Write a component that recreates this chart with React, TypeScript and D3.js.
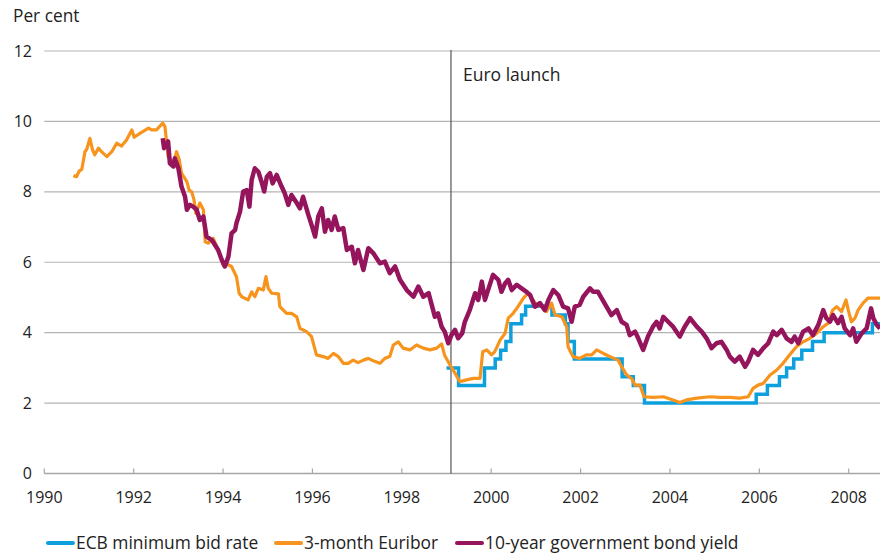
import React from "react";
import * as d3 from "d3";

// ---------- DATA ----------
const yTicks = [0, 2, 4, 6, 8, 10, 12];
const xTicks = [1990, 1992, 1994, 1996, 1998, 2000, 2002, 2004, 2006, 2008];
const euroLaunch = 1999.1;

// ECB minimum bid rate (step changes): date, rate
const ecbDates = [1999.0, 1999.27, 1999.85, 2000.09, 2000.21, 2000.33, 2000.44, 2000.68, 2000.77, 2001.36, 2001.66, 2001.72, 2001.86, 2002.93, 2003.18, 2003.43, 2005.93, 2006.18, 2006.45, 2006.61, 2006.77, 2006.95, 2007.19, 2007.45, 2008.53, 2008.70];
const ecbRates = [3.0, 2.5, 3.0, 3.25, 3.5, 3.75, 4.25, 4.5, 4.75, 4.5, 4.25, 3.75, 3.25, 2.75, 2.5, 2.0, 2.25, 2.5, 2.75, 3.0, 3.25, 3.5, 3.75, 4.0, 4.25, 4.25];

// 3-month Euribor
const euriborDates = [1990.65, 1990.72, 1990.78, 1990.84, 1990.91, 1990.95, 1991.02, 1991.08, 1991.13, 1991.21, 1991.28, 1991.40, 1991.51, 1991.62, 1991.73, 1991.84, 1991.96, 1992.01, 1992.14, 1992.33, 1992.40, 1992.51, 1992.65, 1992.70, 1992.77, 1992.89, 1992.96, 1993.02, 1993.07, 1993.19, 1993.24, 1993.30, 1993.35, 1993.39, 1993.48, 1993.56, 1993.60, 1993.67, 1993.78, 1993.89, 1994.00, 1994.08, 1994.19, 1994.30, 1994.36, 1994.42, 1994.56, 1994.64, 1994.71, 1994.79, 1994.90, 1994.96, 1995.01, 1995.09, 1995.24, 1995.27, 1995.42, 1995.53, 1995.65, 1995.72, 1995.87, 1995.98, 1996.09, 1996.24, 1996.35, 1996.47, 1996.58, 1996.69, 1996.80, 1996.91, 1997.02, 1997.14, 1997.25, 1997.36, 1997.51, 1997.62, 1997.73, 1997.81, 1997.92, 1998.03, 1998.18, 1998.33, 1998.48, 1998.63, 1998.78, 1998.89, 1998.96, 1999.08, 1999.19, 1999.30, 1999.45, 1999.60, 1999.75, 1999.81, 1999.90, 2000.01, 2000.08, 2000.20, 2000.31, 2000.38, 2000.49, 2000.60, 2000.72, 2000.83, 2000.90, 2001.02, 2001.13, 2001.24, 2001.35, 2001.43, 2001.58, 2001.69, 2001.72, 2001.83, 2001.98, 2002.13, 2002.25, 2002.36, 2002.51, 2002.66, 2002.84, 2002.92, 2003.03, 2003.14, 2003.22, 2003.33, 2003.42, 2003.62, 2003.85, 2004.07, 2004.22, 2004.37, 2004.60, 2004.89, 2005.12, 2005.34, 2005.56, 2005.75, 2005.86, 2005.97, 2006.09, 2006.24, 2006.39, 2006.53, 2006.68, 2006.83, 2006.98, 2007.13, 2007.28, 2007.43, 2007.54, 2007.64, 2007.73, 2007.84, 2007.94, 2007.99, 2008.06, 2008.14, 2008.21, 2008.32, 2008.43, 2008.70];
const euriborRates = [8.46, 8.43, 8.59, 8.64, 9.14, 9.21, 9.52, 9.19, 9.05, 9.24, 9.14, 9.0, 9.14, 9.38, 9.30, 9.47, 9.76, 9.55, 9.66, 9.81, 9.76, 9.76, 9.95, 9.85, 9.0, 8.81, 9.14, 8.91, 8.53, 8.29, 8.05, 8.0, 7.77, 7.39, 7.68, 7.49, 6.58, 6.54, 6.68, 6.35, 5.92, 5.95, 5.88, 5.59, 5.12, 5.02, 4.93, 5.16, 5.02, 5.26, 5.21, 5.59, 5.26, 5.12, 5.10, 4.74, 4.55, 4.55, 4.45, 4.12, 4.03, 3.89, 3.37, 3.32, 3.27, 3.41, 3.32, 3.13, 3.13, 3.22, 3.15, 3.22, 3.27, 3.20, 3.13, 3.27, 3.32, 3.65, 3.74, 3.56, 3.51, 3.65, 3.56, 3.51, 3.56, 3.68, 3.35, 3.08, 2.85, 2.61, 2.66, 2.70, 2.70, 3.46, 3.51, 3.37, 3.46, 3.79, 3.98, 4.41, 4.55, 4.74, 4.98, 5.12, 4.98, 4.79, 4.74, 4.60, 4.84, 4.50, 4.45, 4.17, 3.60, 3.32, 3.27, 3.37, 3.37, 3.51, 3.41, 3.32, 3.22, 3.03, 2.80, 2.70, 2.51, 2.51, 2.18, 2.16, 2.18, 2.09, 2.02, 2.09, 2.14, 2.18, 2.16, 2.16, 2.14, 2.18, 2.42, 2.51, 2.56, 2.80, 2.94, 3.13, 3.37, 3.60, 3.74, 3.84, 3.98, 4.17, 4.27, 4.64, 4.74, 4.60, 4.93, 4.64, 4.31, 4.41, 4.64, 4.84, 4.98, 4.98];

// 10-year government bond yield
const bondDates = [1992.65, 1992.68, 1992.77, 1992.81, 1992.89, 1992.92, 1993.00, 1993.07, 1993.15, 1993.19, 1993.26, 1993.33, 1993.41, 1993.48, 1993.56, 1993.63, 1993.75, 1993.82, 1993.89, 1993.97, 1994.04, 1994.12, 1994.19, 1994.27, 1994.30, 1994.38, 1994.45, 1994.53, 1994.59, 1994.64, 1994.71, 1994.79, 1994.86, 1994.92, 1994.98, 1995.05, 1995.11, 1995.20, 1995.31, 1995.38, 1995.46, 1995.53, 1995.65, 1995.72, 1995.79, 1995.91, 1995.98, 1996.06, 1996.13, 1996.21, 1996.28, 1996.35, 1996.43, 1996.50, 1996.58, 1996.69, 1996.77, 1996.88, 1996.95, 1997.02, 1997.14, 1997.25, 1997.36, 1997.51, 1997.62, 1997.73, 1997.85, 1997.96, 1998.11, 1998.26, 1998.37, 1998.48, 1998.60, 1998.68, 1998.74, 1998.81, 1998.89, 1998.96, 1999.04, 1999.11, 1999.19, 1999.26, 1999.35, 1999.41, 1999.52, 1999.64, 1999.71, 1999.79, 1999.86, 1999.93, 2000.04, 2000.16, 2000.23, 2000.31, 2000.38, 2000.46, 2000.57, 2000.68, 2000.79, 2000.87, 2000.98, 2001.09, 2001.20, 2001.28, 2001.39, 2001.50, 2001.61, 2001.72, 2001.80, 2001.87, 2001.98, 2002.06, 2002.21, 2002.28, 2002.39, 2002.47, 2002.58, 2002.69, 2002.81, 2002.92, 2003.03, 2003.10, 2003.22, 2003.29, 2003.40, 2003.51, 2003.62, 2003.70, 2003.77, 2003.85, 2003.96, 2004.07, 2004.22, 2004.33, 2004.45, 2004.60, 2004.71, 2004.82, 2004.93, 2005.04, 2005.15, 2005.27, 2005.34, 2005.45, 2005.56, 2005.68, 2005.75, 2005.86, 2005.97, 2006.09, 2006.20, 2006.31, 2006.39, 2006.50, 2006.61, 2006.72, 2006.79, 2006.87, 2006.98, 2007.10, 2007.20, 2007.32, 2007.43, 2007.50, 2007.58, 2007.65, 2007.76, 2007.84, 2007.91, 2008.03, 2008.10, 2008.17, 2008.29, 2008.40, 2008.50, 2008.55, 2008.63, 2008.70];
const bondYields = [9.52, 9.24, 9.43, 8.81, 8.72, 8.95, 8.67, 8.15, 7.86, 7.49, 7.63, 7.58, 7.49, 7.20, 7.30, 6.73, 6.63, 6.49, 6.35, 6.07, 5.88, 6.16, 6.82, 6.92, 7.11, 7.44, 8.01, 8.05, 7.58, 8.34, 8.67, 8.57, 8.29, 8.01, 8.43, 8.53, 8.24, 8.48, 8.15, 7.96, 7.63, 7.91, 7.68, 7.53, 7.86, 7.34, 7.06, 6.73, 7.30, 7.53, 6.87, 7.20, 6.92, 7.30, 6.92, 6.97, 6.35, 6.44, 5.97, 6.35, 5.78, 6.40, 6.26, 5.97, 6.02, 5.69, 5.88, 5.50, 5.21, 5.02, 5.31, 5.02, 5.12, 4.74, 4.45, 4.55, 4.17, 4.03, 3.70, 3.93, 4.08, 3.84, 3.98, 4.31, 4.64, 5.12, 4.93, 5.45, 4.93, 5.21, 5.64, 5.50, 5.16, 5.40, 5.50, 5.21, 5.36, 5.26, 5.16, 5.07, 4.74, 4.84, 4.64, 4.93, 5.21, 5.07, 4.74, 4.69, 4.31, 4.74, 4.79, 5.02, 5.26, 5.16, 5.16, 4.98, 4.74, 4.50, 4.64, 4.31, 4.22, 3.93, 4.03, 3.84, 3.51, 3.90, 4.17, 4.31, 4.12, 4.45, 4.31, 4.17, 3.89, 4.17, 4.41, 4.17, 4.03, 3.84, 3.56, 3.70, 3.74, 3.51, 3.32, 3.18, 3.32, 3.03, 3.18, 3.51, 3.37, 3.56, 3.70, 4.03, 3.93, 4.08, 3.84, 3.74, 3.89, 3.70, 4.03, 4.12, 3.93, 4.22, 4.64, 4.41, 4.31, 4.50, 4.27, 4.45, 4.12, 3.93, 4.12, 3.74, 3.98, 4.12, 4.69, 4.41, 4.22, 4.12];

const legendLabels = ["ECB minimum bid rate", "3-month Euribor", "10-year government bond yield"];
const colors = ["#0ea0dc", "#f7941d", "#95155d"];

// ---------- CHART ----------
const W = 880;
const H = 555;
const FONT = "'Open Sans', 'Noto Sans', sans-serif";

export default function App() {
  const x = d3.scaleLinear().domain([1990, 2008.7]).range([44.3, 880]);
  const y = d3.scaleLinear().domain([0, 12]).range([473.5, 51]);

  const zip = (ds: number[], vs: number[]) => ds.map((d, i) => [d, vs[i]] as [number, number]);
  const lineStep = d3.line<[number, number]>().x((d) => x(d[0])).y((d) => y(d[1])).curve(d3.curveStepAfter);
  const lineLin = d3.line<[number, number]>().x((d) => x(d[0])).y((d) => y(d[1])).curve(d3.curveLinear);

  const ecbPath = lineStep(zip(ecbDates, ecbRates)) || "";
  const euriborPath = lineLin(zip(euriborDates, euriborRates)) || "";
  const bondPath = lineLin(zip(bondDates, bondYields)) || "";

  const legendX = [48, 276, 457];

  return (
    <svg width={W} height={H} style={{ position: "absolute", left: 0, top: 0, background: "#fff" }} fontFamily={FONT}>
      <text x={13} y={22} fontSize={17.3} fill="#222">Per cent</text>
      {yTicks.map((t) => (
        <g key={t}>
          {t > 0 && (
            <line x1={x(1990)} x2={W} y1={y(t)} y2={y(t)} stroke="#b3b3b3" strokeWidth={1.2} />
          )}
          <text x={32} y={y(t)} dy="0.35em" textAnchor="end" fontSize={16} fill="#222">{t}</text>
        </g>
      ))}
      <line x1={x(1990)} x2={W} y1={y(0)} y2={y(0)} stroke="#a6a6a6" strokeWidth={1.6} />
      {xTicks.map((t) => (
        <g key={t}>
          <line x1={x(t)} x2={x(t)} y1={y(0)} y2={y(0) - 5} stroke="#a6a6a6" strokeWidth={1.2} />
          <text x={x(t)} y={497} dy="0.35em" textAnchor="middle" fontSize={16} fill="#222">{t}</text>
        </g>
      ))}
      <line x1={x(euroLaunch)} x2={x(euroLaunch)} y1={y(12) - 1} y2={y(0)} stroke="#555" strokeWidth={1.2} />
      <text x={x(euroLaunch) + 12} y={75} dy="0.35em" fontSize={17.5} fill="#222">Euro launch</text>

      <path d={ecbPath} fill="none" stroke={colors[0]} strokeWidth={3.5} />
      <path d={euriborPath} fill="none" stroke={colors[1]} strokeWidth={3.2} strokeLinejoin="round" />
      <path d={bondPath} fill="none" stroke={colors[2]} strokeWidth={4.5} strokeLinejoin="round" />

      {legendLabels.map((l, i) => (
        <g key={l}>
          <line x1={legendX[i]} x2={legendX[i] + 25} y1={543} y2={543} stroke={colors[i]} strokeWidth={4} strokeLinecap="round" />
          <text x={legendX[i] + 28} y={543} dy="0.35em" fontSize={17.4} fill="#222">{l}</text>
        </g>
      ))}
    </svg>
  );
}
